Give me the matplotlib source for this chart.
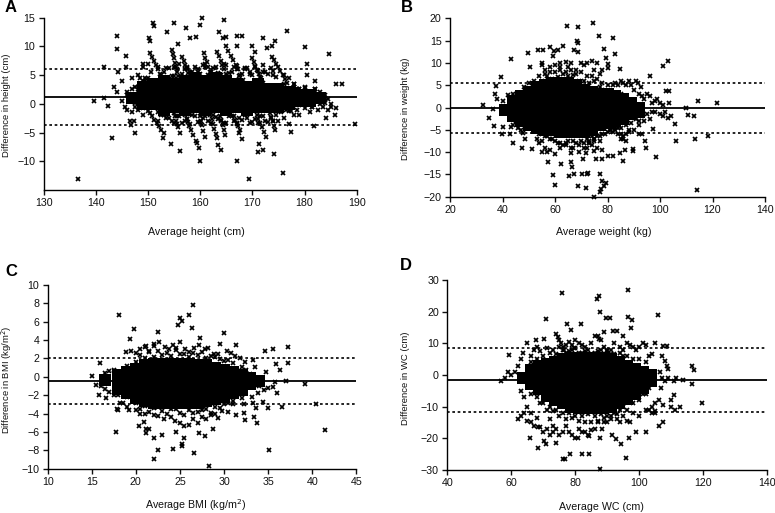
import matplotlib
matplotlib.use("Agg")
import matplotlib.pyplot as plt

plt.rcParams['font.family'] = ['Liberation Sans', 'DejaVu Sans']

# ---------- Panel A ----------
a_x = [136.5,139.7,141.6,141.5,142.3,143,143.4,144,144.1,144.2,144,145,145.7,145.7,147.5,147.4,146.5,146.8,
151,151.2,150.2,150.4,153.6,154.9,157.3,160.3,160,164.6,163.6,164.3,165,158.1,159.1,155.7,167,168,167,170,170.5,172,174.4,176.6,173.8,172.9,180,184.7,180.5,180.5,182,186.1,187.2,185.9,184.2,181.9,189.6,177.4,175.8,174.2,169.4,167,171.3,171.1,172,168,167.5,163.9,163.5,160,159.8,159.3,159.1,156.1,154.4,152.9,
146,147,148,149,147.5,148.5,149.5,149,150,146,147,148,149,178,179,180,181,182,183,184,185,184.5,183.5,182.5,181,179,178,177,176,175,177,178,179,185,186,184,
158.5,159.5,168.5,169.5,155,157.5,161,162,167,172,174,176,148,149,150,151,152,146.5,147.5,175.5,177,178.5,180,181.5,183,180,178.5]
a_y = [-13.1,0.5,6.5,1,-0.4,-6,3,11.9,9.5,5.6,2,4,8.4,6.5,-5,-3,-3,-3.6,
14,13.5,11.5,11,12.5,14,13.2,15,13.7,14.6,12.5,11.4,11.6,11.5,11.7,10.4,11.9,11.8,10,10,9.1,11.4,11,12.7,10,9.7,9.9,8.6,7,5,4,3.5,3.4,-1.9,-2.4,-3.9,-3.5,-4.9,-12,-8.7,-13,-10,-7,-8.4,-8,-6.1,-5.1,-8,-7.1,-10,-7.7,-6.8,-6.4,-8.2,-7,-5.9,
-1,-1.5,-1,-2,3,4.5,4,6.5,7,2,4.5,5,7,3.5,2.5,2,1.5,2.5,1.5,1,0,-1,-0.5,-1,-1.5,-2,-2,-3.5,-2.5,-3,4.5,3.5,2.5,-0.5,-0.7,0.2,
5.5,6,6,5.5,6.5,6.2,6.5,5.5,6,5.5,5,5,3,4,4.5,-0.5,-1.5,0.5,0.2,-1.5,-1.3,-1,-0.8,-0.6,0,3,2.5]
a_sx = [150.4,150.8,151.2,151.5,151.9,152.3,152.6,153,154.5,154.7,154.9,155.2,155.4,155.6,155.8,156,156.5,156.8,157.1,157.4,157.7,158,158.4,
160.7,161,161.3,161.5,161.8,162.1,162.5,163.2,163.6,163.9,164.2,164.6,164.9,165.3,165.7,165,165.4,165.9,166.3,166.8,167.2,167.7,168.2,
170,170.3,170.6,170.9,171.2,171.6,172.1,173.7,174.1,174.5,174.9,175.3,175.8,176.2,176.6,
150.4,150.8,151.2,151.7,152.1,152.5,153,154.9,155.1,155.3,155.5,155.8,156.1,157.1,157.4,157.6,157.9,158.2,158.7,160,160.2,160.4,160.6,160.9,
161.9,162.2,162.5,162.7,163,163.2,163.8,164,164.3,164.5,164.8,166.4,166.7,167,167.3,167.6,170.8,171.1,171.5,171.9,172.3,172.7,173.4,173.6,173.9,174.1,174.3]
a_sy = [8.8,8.1,7.4,6.7,6,5.2,4.4,3.6,9.4,8.6,7.9,7.1,6.4,5.6,4.9,4.2,8.2,7.5,6.8,6.1,5.4,4.7,3.6,
8.8,8,7.2,6.4,5.6,4.8,3.6,9.1,8.3,7.5,6.8,6,5.2,4.4,3.6,10,9.2,8.4,7.6,6.8,6,5.1,4.2,
8,7.3,6.6,5.9,5.2,4.5,3.6,8.2,7.6,7,6.4,5.8,5.1,4.4,3.6,
-1.6,-2.2,-2.8,-3.3,-3.9,-4.5,-5.1,-1.6,-2.2,-2.9,-3.5,-4.1,-5.1,-1.9,-2.6,-3.2,-3.9,-4.6,-5.4,-2.2,-2.9,-3.7,-4.7,-5.7,
-1.9,-2.7,-3.5,-4.3,-5.2,-6,-2.2,-2.9,-3.6,-4.5,-5.4,-2.2,-2.8,-3.4,-3.9,-4.5,-1.9,-2.6,-3.4,-4.1,-4.9,-5.7,-1.6,-2.3,-3,-3.8,-4.5]
a_fx = [152,153,154,155,156,157,158,159,160,161,162,163,164,165,166,167,168,169,170,171,172,173,174,
152.5,153.5,154.5,155.5,156.5,157.5,158.5,159.5,160.5,161.5,162.5,163.5,164.5,165.5,166.5,167.5,168.5,169.5,170.5,171.5,172.5,173.5,174.5,
152.5,153.5,154.5,155.5,156.5,157.5,158.5,159.5,160.5,161.5,162.5,163.5,164.5,165.5,166.5,167.5,168.5,169.5,170.5,171.5,172.5,173.5,174.5,
152,153,154,155,156,157,158,159,160,161,162,163,164,165,166,167,168,169,170,171,172,173,174,
145,145.5,146,146.5,147,147.5,148,148.5,149,149.5,150,150.5,
176,177,178,179,180,181,182,183,184,176.5,177.5,178.5,179.5,180.5,181.5,182.5,183.5,184.5]
a_fy = [6.5,5.5,6.2,4.8,7,6,5.5,6.5,5.2,7,5.6,6.4,5,6.8,5.5,6.6,5.2,6.2,5,5.8,6.8,5.2,5.8,
5,6.2,4.9,6,5.2,6.5,4.7,5.6,6.7,5,6.3,5.4,7,5.3,6.4,4.8,6.2,5.2,6.4,4.6,5.5,6.2,4.6,
-2,-2.5,-3,-2.2,-3.3,-2.6,-2,-3.2,-2.4,-3,-2,-2.6,-3.4,-2.2,-3,-2.5,-2,-3.3,-2.6,-2.2,-3,-2.4,-2,
-3,-2,-2.4,-3.4,-2.1,-3,-3.5,-2.2,-3.2,-2.2,-3.4,-2.3,-2.8,-3.4,-2.2,-3.5,-2.8,-2.4,-3.1,-3.4,-2.1,-3.2,-3,
0.5,-0.5,1.5,0.8,2.5,-0.5,2,3.5,-0.8,4.5,-1.2,5.5,
3.5,-0.5,3,-0.2,2.8,0,2.5,2,1.5,-1,-1.2,2.5,0,2,-0.5,1.8,0.5,0.8]
a_core_x = [147,149,151,153,155,157,159,161,163,165,167,169,171,173,175,177,179,181,183]
a_core_y = [[1],[0,1,2,3],[0,1,2,3,3.5],[-1,0,1,2,3,4],[-0.5,0.5,1.5,2.5,3.5],[-1,0,1,2,3,4],[-0.5,0.5,1.5,2.5,3.5,4.5],[-1,0,1,2,3,4],
[-0.5,0.5,1.5,2.5,3.5,4.5],[-1,0,1,2,3,4],[-0.5,0.5,1.5,2.5,3.5],[-1,0,1,2,3],[-0.5,0.5,1.5,2.5,3.5],[-0.5,0.5,1.5,2.5],[-0.5,0.5,1.5,2.5],[0,1,2],[0.5,1.5],[0.5,1.5],[1]]
a_mean, a_hi, a_lo = 1.2, 6.0, -3.6

# ---------- Panel B ----------
b_x = [32.4,35,36.3,36.9,37.3,37.5,39.3,43.4,40.1,39.8,43,43.1,43.9,47.3,47.8,48.6,51.4,49.7,50.3,53.4,55.4,58.1,59.2,59.6,61,63.2,64.7,68.9,74.4,76.9,82.1,78.7,83,79.3,68.4,68.6,67.4,68.9,80,80.3,84.6,96.3,91.7,92.8,101.3,102.9,102.3,103.4,103.6,110,114.3,121.6,110.8,113,105.8,106.2,113.5,118.2,98.4,97.3,94.3,94.5,89.6,89.6,86.7,84.8,86,82.2,80.3,77.8,75.5,74.9,70.8,71.9,57.2,62.2,66.1,66.5,59.4,60.1,65.3,67.1,70.4,72.4,72.3,77.3,78,79.6,78.8,77.4,77.1,74.9,71.9,68.6,114.2,
38,40,42,44,55,55,56,58,60,62,62,64,65,66,68,70,71,72,74,75,76,78,77,53,54,55,56,57,58,60,62,64,66,67,69,71,73,75,77,78,
82,83,84,85,86,87,88,89,90,91,92,93,94,95,96,97,98,99,100,101,102,104,92,93,94,95,96,97,98,100,101,103,83,84,85,86,87,88,
72,73,74,75,76,83,84,85,86,87,88,81,82,90,92,93,92,44,45,46,47,
48,50,52,54,56,58,60,62,64,66,68,70,72,74,76,78,80,51,53,55,57,59,61,63,65,67,69,71,73,75,77,79,81,83,85,
50,52,54,56,58,60,62,64,66,68,70,71,73,75,77,79,81,83,85,87,89,91,55,57,59,61,63,65,67,69,72,74,76,78,80,82,84]
b_y = [0.5,-2.4,-0.4,-4.2,3,4.9,6.9,10.8,-4.4,-6,-6,-4.4,-8,-9,-5.7,-7,-9.3,12.3,9,12.9,13,13.5,11.6,12.7,13,13.7,18.3,18,19,16,15.5,13.2,12,11,15,14.4,13,12.5,9.8,8.8,8.6,7.1,5.4,4.5,9.4,10.5,3.6,3.6,1,0,1.5,1,-1.6,-2,-3.8,-7.5,-7,-6.5,-11,-4.8,-7.5,-9,-9.4,-9.8,-9.5,-10.3,-11.9,-10.9,-10.9,-11.5,-11.5,-9.7,-11.6,-10.2,-12.3,-12.6,-12.3,-13.4,-15.1,-17.3,-15.3,-14.9,-15,-14.6,-15,-14.8,-16.5,-16.9,-17.6,-18.2,-18.9,-20,-18,-17.6,-18.6,
2,1.5,2.8,3,9.5,10,8.5,9,9.5,10,9,10.2,9,10,8.5,10,9.5,10,10.5,8.5,10,8.5,7.5,-7,-8,-10,-9,-10,-9.5,-10.5,-9,-8,-10.3,-9,-10,-9,-8,-7,-7.5,-9.5,
5,5.5,5,6,5.5,5,6,5,4,6,3,2.5,2,3,2.5,1,1.5,2,1,0.5,-1,-2,-3,-2,-3,-1.5,-2.5,-1,-1,-1.5,-2,-2.3,-5,-6,-7,-6.5,-7.5,-5.5,
-7,-8,-6.5,-7.5,-9,-4.5,-4,-6,-7,-6,-5,-5,-5.5,-5,-4,-6,-6,-4,-3,-4.5,-5,
4.5,5.5,6,7,7.5,8,8,8.5,8,8.5,7.5,8,7,7,6.5,5.5,5,4,5,6,7,6.5,6.8,7.5,7,7.2,6,6,5.5,6,4.5,4,3.5,3,3,
-3.5,-5,-6,-6.5,-7,-7.5,-8,-8.5,-9,-8,-7.5,-8,-7.5,-7,-6.5,-6,-5,-4,-4.5,-4,-3.5,-2.5,-7.5,-6.5,-7,-8,-8.5,-7.5,-7.5,-8.5,-9,-8.5,-6.5,-6,-5.5,-4.5,-4.5]
b_core_x = [41,44,47,50,53,56,59,62,65,68,71,74,77,80,83,86,89,92]
b_core_y = [[-0.5],[-2,-0.5,1,1.5],[-3,-1.5,0,1.5,2.5],[-4,-2.5,-1,0.5,2,3.5],[-4.5,-3,-1.5,0,1.5,3,4.5],[-5,-3.5,-2,-0.5,1,2.5,4,5],[-5,-3.5,-2,-0.5,1,2.5,4,5.5],
[-5.5,-4,-2.5,-1,0.5,2,3.5,5,5.5],[-5.5,-4,-2.5,-1,0.5,2,3.5,5,5.5],[-5.5,-4,-2.5,-1,0.5,2,3.5,5],[-5.5,-4,-2.5,-1,0.5,2,3.5,4],
[-5,-3.5,-2,-0.5,1,2.5,3.5],[-4,-2.5,-1,0.5,2,3],[-3.5,-2,-0.5,1,2.5,3],[-3,-1.5,0,1.5,2.5],[-2.5,-1,0.5,2],[-1.5,0,1],[-1,0]]
b_mean, b_hi, b_lo = -0.2, 5.4, -5.7

# ---------- Panel C ----------
c_x = [15,15.9,15.8,16.6,17.8,18.1,17.9,18,19.2,19.3,19.8,18.9,20.4,20.9,21.2,21.1,21.5,22,23,22.1,22.5,24.2,24.6,25.2,25.2,25.5,26.6,28.3,27.2,27.8,28.7,22.5,24.8,25,25.2,26,26.5,26.4,27.3,30,29.5,31.3,34.6,35.5,37.2,37.3,35.9,36.4,39.2,40.4,41.4,36.6,35,35.1,34.4,33.6,33.7,33.4,32.4,32.3,31.4,35,35.6,35.8,37,34.8,33.5,33.3,32.4,36,
19.5,20,20.5,21,21.2,22,21.5,22,22.6,23.3,23.8,24.2,24.5,25,25.6,26,26.6,27.2,27.8,28.2,28.9,29.3,30.3,30.8,31.2,31.8,
20,20.5,21,22,22.5,23.2,24,24.4,25,25.5,26,26.5,27,27.5,28,28.5,29,29.3,29.8,30.5,31,32.3,
15.5,16,16.5,17,17.5,18,18.2,18.5,19,16.5,17,17.5,32.5,33,33.5,34,34.5,33.2,33.8,33.3,
19,20,21,22,23,24,25,26,27,28,29,30,31,32,20.5,21.5,22.5,23.5,24.5,25.5,26.5,27.5,28.5,29.5,30.5,
19,20,21,22,23,24,25,26,27,28,29,30,31,32,20.5,21.5,22.5,23.5,24.5,25.5,26.5,27.5,28.5,29.5,30.5]
c_y = [0.1,1.5,-2,-2.3,-6,6.7,-3.5,-3.6,-3.6,4.1,5.2,2.7,-5.4,-4.9,-5.7,-6.1,-5.7,-6.7,-6.3,-8.9,-8,-7.9,-6,-7.5,-7.3,-6.7,-8.3,-9.7,-6.1,-6.4,-5.7,4.9,5.6,6.4,6.1,6.7,7.8,5.3,4.2,4.8,3.6,3.5,2.8,3,3.2,1.5,1.4,0.8,-0.8,-3,-5.8,-3.3,-3.4,-8,-2.7,-3.4,-5,-4.4,-4.7,-3.9,-4.1,-1.2,-1.1,-0.6,-0.4,0.5,1.1,1.8,1.6,-1.8,
2.8,2.6,3,3.3,3.4,3.4,2.8,3.6,3.8,3.2,3,3.5,3.1,3.8,3,2.7,3.1,3.5,3,3.1,2.5,2.5,2.8,2.6,2.3,2.1,
-3.6,-4,-4,-4.2,-4.3,-4.6,-4.4,-4.8,-5,-5.3,-5.2,-4.6,-5,-4.4,-4.6,-4.2,-4,-4.5,-3.7,-3.8,-3,-3,
-0.9,-1,-1.3,-1.6,-2,-2,-2.8,-2.8,-3.3,0.4,0.6,0.8,0.8,0.3,-0.3,-1,-1.4,-2.2,-1.8,-2.9,
1.2,1.6,2,2.2,2.4,2.3,2.5,2.2,2.4,2.1,2.2,1.7,1.5,1.1,2.4,2.7,2.8,2.6,2.9,2.5,2.6,2.7,2.3,1.9,1.8,
-2.2,-2.8,-3.2,-3.4,-3.7,-3.5,-3.9,-3.6,-3.8,-3.5,-3.3,-3,-2.6,-2.3,-3.5,-3.8,-3.3,-4,-3.5,-4.1,-3.9,-3.6,-3.9,-3.4,-2.9]
c_core_x = [16.5,18,19,20,21,22,23,24,25,26,27,28,29,30,31,32,33,34]
c_core_y = [[-0.3],[-1.3,-0.5,0.2],[-1.8,-1,-0.2,0.5],[-2.3,-1.5,-0.7,0.1,0.9],[-2.6,-1.8,-1,-0.2,0.6,1.3],[-2.8,-2,-1.2,-0.4,0.4,1.2,1.4],
[-2.8,-2,-1.2,-0.4,0.4,1.2,1.4],[-2.8,-2,-1.2,-0.4,0.4,1.2,1.4],[-2.8,-2,-1.2,-0.4,0.4,1.2,1.4],[-2.8,-2,-1.2,-0.4,0.4,1.2,1.4],[-2.8,-2,-1.2,-0.4,0.4,1.2,1.3],
[-2.6,-1.8,-1,-0.2,0.6,1.3],[-2.4,-1.6,-0.8,0,0.8,1],[-2.2,-1.4,-0.6,0.2,0.8],[-1.8,-1,-0.2,0.5],[-1.4,-0.6,0.2],[-0.8,-0.1],[-0.5]]
c_mean, c_hi, c_lo = -0.4, 2.1, -3.0

# ---------- Panel D ----------
d_x = [56.9,59.3,64.8,67.6,70.1,70.8,75.8,77.3,81.9,78.6,96.4,86.9,87.3,87.8,89.7,90.8,96.6,97.7,97.4,105.9,89,91.9,92.9,94.8,107.5,108.5,116.5,117,116.4,113.8,111.5,110.9,119.5,112.8,110.9,109.8,109.8,111,107.4,106,107.5,106.8,102,98.9,96.8,94.3,92.6,91.4,87.8,88.3,84.4,82.2,78.4,76.3,76.9,95.9,87.6,74,70.7,70.3,68.3,65.8,68.4,80.8,84.3,
74,74.5,75,75.5,76,76.5,77,78,79,79.5,80,81,82,83,85,86,87,87.5,88,89,90,91,92,94,95,96,97,98,99,100,101,102,103,104,105,106.5,107,108,108.5,109,
62,63,64,65,66,67,68,69,70,71,72,73,72,73,74,75,76,77,78,79,80,81,82,83,84,85,86,87,89,90,91,93,94,95,96,97,98,100,102,103,104,105,
60,61,62,63,63.5,58,59,63,64,65,66,66,67,68,105,106,104,105,107,108,109,103,103.5,
66,68,70,72,74,76,78,80,82,84,86,88,90,92,94,96,98,100,102,69,71,73,75,77,79,81,83,85,87,89,91,93,95,
66,68,70,72,74,76,78,80,82,84,86,88,90,92,94,96,98,100,102,69,71,73,75,77,79,81,83,85,87,89,91,93,95,99,101,103]
d_y = [-2,6.4,10,11,11.3,17.8,26,16,16,14.3,27,24,25,20,18,18,18.4,17.5,15,19,13.5,14,14,12.3,9.2,9.2,3,1.5,-3,-1.5,-1,-2,-9,-10,-6.3,-8,-10,-11.2,-15,-16,-9.5,-4,-18,-18,-20,-22,-20.4,-19,-20,-17,-25,-25,-25,-26.7,-26.7,-26.4,-29.7,-21.6,-22,-21,-23,-20,-16.6,-20,-19.3,
13,12,11,10,9,8,7,10.5,9.5,8.5,11,10,9.5,9,10,12.5,12.5,11.5,11,9,8,8,10,9,8,10,9.5,9,8,9,10,9.5,6,6.5,10,1,6,4.5,3,2,
-14,-13,-12,-14.5,-15,-16,-13.5,-16.5,-18,-17,-14,-16,-19,-18,-17,-19,-18,-16,-18,-19,-20,-17,-18,-18,-19,-17.5,-17,-15,-15,-15,-14,-14,-15,-13,-14.5,-15,-12,-13,-11,-11,-12,-12,
0,1,3,5,7,-1,1,-5,-7,-10,-12,6,8,9,-9,-8,-10,-11.5,-1,-2,-1,-1.5,-3,
4,5,6,7,6.5,8,7.5,8.5,7,8,7,8,7.5,6.5,7,6,5,5,4,7.5,8.5,8,9,9.5,8,7,7.5,6.5,7.5,6,6.5,5.5,6,
-6,-7,-9,-10,-11,-12,-12,-13,-13,-12.5,-13,-12.5,-13,-12,-11,-11,-9,-8,-6,-9,-11,-11.5,-13,-14,-13.5,-14.5,-15,-15,-14.5,-13.5,-13,-12.5,-10,-7,-6,-4]
d_core_x = [63.5,66,68.5,71,73.5,76,78.5,81,83.5,86,88.5,91,93.5,96,98.5,101,103.5]
d_core_y = [[-1],[-3,-0.5,1.5],[-4.5,-2,0.5,3],[-6.5,-4,-1.5,1,3.5],[-8,-5.5,-3,-0.5,2,4],[-9,-6.5,-4,-1.5,1,3.5,5],
[-10,-7.5,-5,-2.5,0,2.5,5,5.5],[-10.5,-8,-5.5,-3,-0.5,2,4.5,5.5],[-10.5,-8,-5.5,-3,-0.5,2,4.5,5.5],[-10.5,-8,-5.5,-3,-0.5,2,4.5,5.5],[-10.5,-8,-5.5,-3,-0.5,2,4.5,5.5],
[-10,-7.5,-5,-2.5,0,2.5,5],[-9,-6.5,-4,-1.5,1,3.5,4],[-7.5,-5,-2.5,0,2.5,3],[-6,-3.5,-1,1,2],[-4,-1.5,1],[-2,0]]
d_mean, d_hi, d_lo = -1.5, 8.7, -11.8

W, H = 775, 513
fig = plt.figure(figsize=(W/100, H/100), dpi=100)

def panel(letter, lx, ly, box, xlim, ylim, xticks, yticks, xlabel, ylabel, x, y, cx, cy, m, hi, lo, xlp, ylp):
    l, r, t, b = box
    ax = fig.add_axes([l/W, 1-b/H, (r-l)/W, (b-t)/H])
    px = [cx[i] for i, col in enumerate(cy) for _ in col]
    py = [v for col in cy for v in col]
    ax.plot(px, py, ls='', marker='s', ms=8.3, mew=0, color='k', clip_on=False, zorder=2)
    ax.plot(x, y, ls='', marker='x', ms=3.5, mew=1.25, color='k', clip_on=False, zorder=3)
    ax.plot(xlim, [m, m], color='k', lw=1.3, zorder=4)
    ax.plot(xlim, [hi, hi], color='k', lw=1.2, ls=(0, (1.6, 1.6)), zorder=4)
    ax.plot(xlim, [lo, lo], color='k', lw=1.2, ls=(0, (1.6, 1.6)), zorder=4)
    ax.set_xlim(xlim); ax.set_ylim(ylim)
    ax.set_xticks(xticks); ax.set_yticks(yticks)
    ax.spines[['top', 'right']].set_visible(False)
    ax.spines[['left', 'bottom']].set_linewidth(1.0)
    ax.tick_params(length=3.5, width=1.0, labelsize=7.7, pad=2.5, colors='#111111')
    fig.text(lx/W, 1-ly/H, letter, fontsize=12, fontweight='bold', ha='left', va='center')
    fig.text(xlp[0]/W, 1-xlp[1]/H, xlabel, fontsize=7.7, ha='center', va='center', color='#111111')
    fig.text(ylp[0]/W, 1-ylp[1]/H, ylabel, fontsize=6.8, ha='center', va='center', rotation=90, color='#111111')

panel('A', 5, 8, (43.7, 356.7, 17.7, 190), (130, 190), (-15, 15), range(130, 191, 10),
      [-10, -5, 0, 5, 10, 15], 'Average height (cm)', 'Difference in height (cm)',
      a_x + a_sx + a_fx, a_y + a_sy + a_fy, a_core_x, a_core_y, a_mean, a_hi, a_lo, (196, 232), (7, 105))
panel('B', 401, 8, (450, 765, 18.3, 196.7), (20, 140), (-20, 20), range(20, 141, 20),
      [-20, -15, -10, -5, 0, 5, 10, 15, 20], 'Average weight (kg)', 'Difference in weight (kg)',
      b_x, b_y, b_core_x, b_core_y, b_mean, b_hi, b_lo, (604, 232), (405, 109))
panel('C', 5, 272, (47.7, 356.3, 285, 468.7), (10, 45), (-10, 10), range(10, 46, 5),
      list(range(-10, 11, 2)), 'Average BMI (kg/m$^2$)', 'Difference in BMI (kg/m$^2$)',
      c_x, c_y, c_core_x, c_core_y, c_mean, c_hi, c_lo, (196, 505), (7, 380))
panel('D', 400, 266, (447.3, 767.3, 280.3, 469.7), (40, 140), (-30, 30), range(40, 141, 20),
      [-30, -20, -10, 0, 10, 20, 30], 'Average WC (cm)', 'Difference in WC (cm)',
      d_x, d_y, d_core_x, d_core_y, d_mean, d_hi, d_lo, (601, 507), (405, 378))

fig.savefig('out.png', dpi=100)
